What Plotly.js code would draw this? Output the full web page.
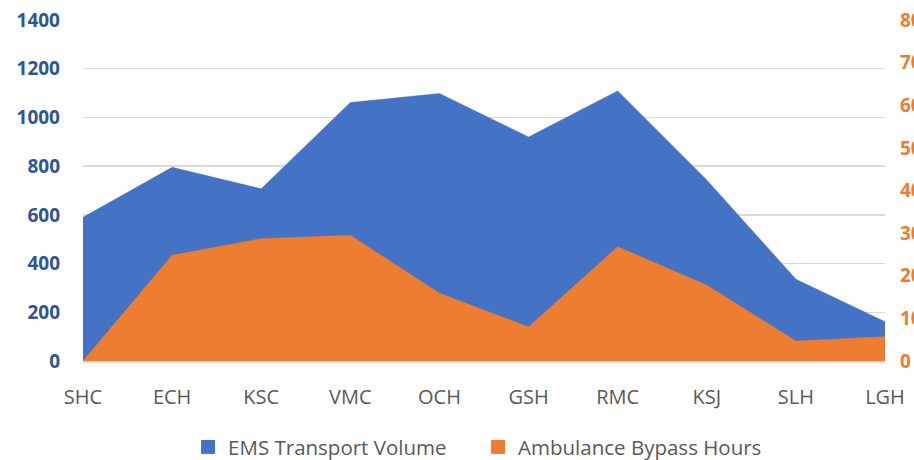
<!DOCTYPE html>
<html>
<head>
<meta charset="utf-8">
<script src="https://cdn.plot.ly/plotly-3.0.1.min.js"></script>
<style>html,body{margin:0;padding:0;background:#fff;}#chart{width:914px;height:460px;}</style>
</head>
<body>
<div id="chart"></div>
<script>
const categories = ["SHC","ECH","KSC","VMC","OCH","GSH","RMC","KSJ","SLH","LGH"];
const emsTransportVolume = [590, 795, 707, 1061, 1098, 920, 1109, 743, 336, 161];
const ambulanceBypassHours = [0, 248, 287, 295, 159, 80, 268, 178, 47, 57];
const leftTicks = [0,200,400,600,800,1000,1200,1400];
const rightTicks = [0,100,200,300,400,500,600,700,800];
const seriesNames = ["EMS Transport Volume", "Ambulance Bypass Hours"];

const blue = "#4472C4", orange = "#ED7D31";
const traces = [
  {x: categories, y: emsTransportVolume, name: seriesNames[0], type: "scatter", mode: "lines",
   fill: "tozeroy", fillcolor: blue, line: {color: blue, width: 0.5}, yaxis: "y", showlegend: false},
  {x: categories, y: ambulanceBypassHours, name: seriesNames[1], type: "scatter", mode: "lines",
   fill: "tozeroy", fillcolor: orange, line: {color: orange, width: 0.5}, yaxis: "y2", showlegend: false},
  {x: [null], y: [null], name: seriesNames[0], type: "scatter", mode: "markers",
   marker: {symbol: "square", size: 14, color: blue}, showlegend: true},
  {x: [null], y: [null], name: seriesNames[1], type: "scatter", mode: "markers",
   marker: {symbol: "square", size: 14, color: orange}, showlegend: true}
];
const layout = {
  width: 914, height: 460,
  margin: {l: 83, r: 29, t: 20, b: 99},
  paper_bgcolor: "#fff", plot_bgcolor: "#fff",
  showlegend: true,
  legend: {orientation: "h", x: 0.131, xanchor: "left", xref: "paper", y: 0.028, yref: "container", yanchor: "middle",
    font: {family: "Open Sans, sans-serif", size: 20.5, color: "#595959"}, itemwidth: 30, entrywidth: 245, traceorder: "normal"},
  xaxis: {type: "category", range: [0, 9], showgrid: false, zeroline: false, automargin: false,
    showline: true, linecolor: "#D9D9D9", linewidth: 1.5,
    ticks: "", ticklabelstandoff: 17,
    tickfont: {family: "Open Sans, sans-serif", size: 20, color: "#595959"}},
  yaxis: {range: [0, 1400], tickvals: leftTicks, ticktext: leftTicks.map(String), automargin: false,
    showgrid: true, gridcolor: "#D9D9D9", gridwidth: 1.5, zeroline: false, showline: false,
    ticks: "", ticklabelstandoff: 22,
    tickfont: {family: "Open Sans, sans-serif", size: 19, color: "#2F5597", weight: "bold"}},
  yaxis2: {overlaying: "y", side: "right", range: [0, 800], tickvals: rightTicks, ticktext: rightTicks.map(String),
    automargin: false, showgrid: false, zeroline: false, showline: false, ticks: "", ticklabelstandoff: 14,
    tickfont: {family: "Open Sans, sans-serif", size: 19, color: orange, weight: "bold"}}
};
Plotly.newPlot("chart", traces, layout, {displayModeBar: false, staticPlot: true});
</script>
</body>
</html>
